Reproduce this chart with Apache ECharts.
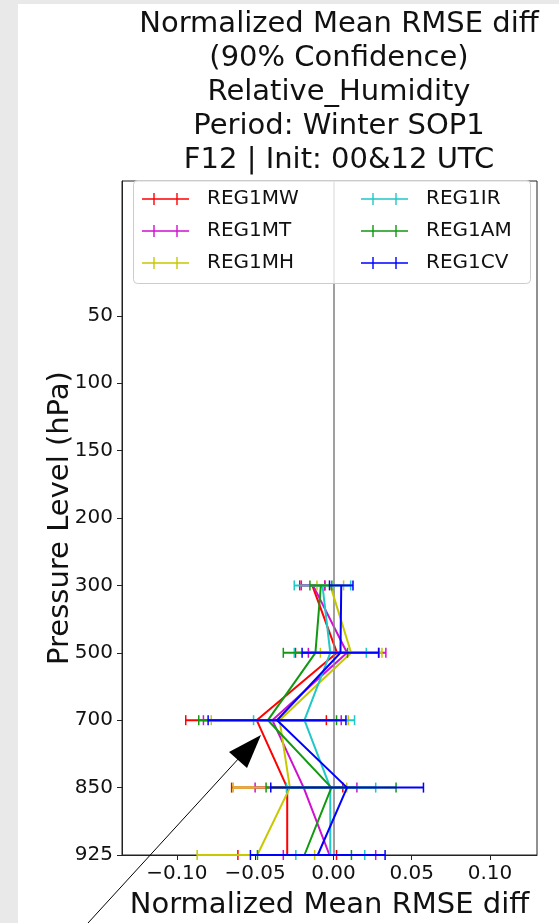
<!DOCTYPE html>
<html>
<head>
<meta charset="utf-8">
<script src="https://cdn.jsdelivr.net/npm/echarts@6/dist/echarts.min.js"></script>
<style>
html,body{margin:0;padding:0;background:#e9e9e9;}
#c{width:559px;height:923px;}
</style>
</head>
<body>
<div id="c"></div>
<script>
// Y tick labels (pressure levels, evenly spaced)
const levels = ['50','100','150','200','300','500','700','850','925'];
// Levels that carry data
const dataLevels = ['300','500','700','850','925'];
// X tick values
const xTicks = [-0.10, -0.05, 0.00, 0.05, 0.10];

const seriesNames = ['REG1MW','REG1MT','REG1MH','REG1IR','REG1AM','REG1CV'];
const seriesColors = ['#ff0000','#d010d0','#c8c800','#20c8c8','#119911','#0000ff'];

// Means (300, 500, 700, 850, 925)
const mw = [-0.0135, 0.0023, -0.0490, -0.0295, -0.0295];
const mt = [-0.0130, 0.0087, -0.0390, -0.0190, -0.0025];
const mh = [-0.0020, 0.0113, -0.0344, -0.0278, -0.0486];
const ir = [-0.0070, -0.0020, -0.0185, -0.0020, -0.0020];
const am = [-0.0080, -0.0115, -0.0418, -0.0013, -0.0185];
const cv = [0.0050, 0.0045, -0.0360, 0.0087, -0.0100];

// 90% confidence lower bounds
const mwLow = [-0.0215, -0.0242, -0.0943, -0.0650, -0.0610];
const mtLow = [-0.0205, -0.0160, -0.0830, -0.0500, -0.0320];
const mhLow = [-0.0105, -0.0083, -0.0780, -0.0640, -0.0870];
const irLow = [-0.0250, -0.0250, -0.0510, -0.0300, -0.0240];
const amLow = [-0.0150, -0.0320, -0.0860, -0.0430, -0.0485];
const cvLow = [-0.0025, -0.0200, -0.0800, -0.0400, -0.0530];

// 90% confidence upper bounds
const mwHigh = [-0.0055, 0.0288, -0.0045, 0.0060, 0.0020];
const mtHigh = [-0.0055, 0.0335, 0.0050, 0.0150, 0.0270];
const mhHigh = [0.0065, 0.0310, 0.0095, 0.0085, -0.0120];
const irHigh = [0.0110, 0.0210, 0.0135, 0.0270, 0.0200];
const amHigh = [-0.0010, 0.0090, 0.0020, 0.0400, 0.0115];
const cvHigh = [0.0125, 0.0290, 0.0080, 0.0575, 0.0330];

const means = [mw, mt, mh, ir, am, cv];
const lows = [mwLow, mtLow, mhLow, irLow, amLow, cvLow];
const highs = [mwHigh, mtHigh, mhHigh, irHigh, amHigh, cvHigh];

const lvlIndex = l => levels.indexOf(l);
const fmtX = v => {
  const s = Math.abs(v).toFixed(2);
  return (v < -1e-9 ? '\u2212' : '') + s;
};

const series = [];
seriesNames.forEach((name, k) => {
  const color = seriesColors[k];
  const line = {
    name, type: 'line', symbol: 'none', color,
    lineStyle: { width: 2, color },
    data: dataLevels.map((l, i) => [means[k][i], lvlIndex(l)]),
    z: 3 + k
  };
  if (k === 0) {
    line.markLine = {
      silent: true, symbol: 'none', animation: false,
      label: { show: false },
      lineStyle: { color: '#808080', width: 1.5, type: 'solid' },
      data: [{ xAxis: 0 }]
    };
  }
  series.push(line);
  series.push({
    name, type: 'custom', color,
    data: dataLevels.map((l, i) => [lows[k][i], highs[k][i], lvlIndex(l)]),
    encode: { x: [0, 1], y: 2 },
    z: 3 + k,
    renderItem: (params, api) => {
      const y = api.value(2);
      const a = api.coord([api.value(0), y]);
      const b = api.coord([api.value(1), y]);
      const h = 5;
      return {
        type: 'group',
        children: [
          { type: 'line', shape: { x1: a[0], y1: a[1], x2: b[0], y2: b[1] }, style: { stroke: color, lineWidth: 2 } },
          { type: 'line', shape: { x1: a[0], y1: a[1] - h, x2: a[0], y2: a[1] + h }, style: { stroke: color, lineWidth: 1.5 } },
          { type: 'line', shape: { x1: b[0], y1: b[1] - h, x2: b[0], y2: b[1] + h }, style: { stroke: color, lineWidth: 1.5 } }
        ]
      };
    }
  });
});

const icon = 'path://M0,5.3h47v1.4H0z M11.3,0h1.4v12h-1.4z M34.3,0h1.4v12h-1.4z';
const legendCommon = {
  orient: 'vertical', top: 189, padding: 0, itemGap: 12,
  itemWidth: 47, itemHeight: 12, icon,
  textStyle: { fontSize: 20, color: '#111', fontFamily: 'DejaVu Sans', lineHeight: 20, padding: [0, 0, 0, 13] },
  selectedMode: false, z: 20
};

const chart = echarts.init(document.getElementById('c'));
chart.setOption({
  animation: false,
  backgroundColor: '#e9e9e9',
  textStyle: { fontFamily: 'DejaVu Sans' },
  title: {
    text: 'Normalized Mean RMSE diff\n(90% Confidence)\nRelative_Humidity\nPeriod: Winter SOP1\nF12 | Init: 00&12 UTC',
    left: 334, top: 2, textAlign: 'center',
    textStyle: { fontSize: 29, fontWeight: 'normal', color: '#111', lineHeight: 34, fontFamily: 'DejaVu Sans' }
  },
  graphic: [
    { type: 'rect', z: -10, silent: true, shape: { x: 18, y: 4, width: 541, height: 919 }, style: { fill: '#ffffff' } },
    { type: 'rect', z: 15, silent: true, shape: { x: 133.5, y: 180.5, width: 397, height: 103, r: 4 }, style: { fill: 'rgba(255,255,255,0.8)', stroke: '#cccccc', lineWidth: 1 } },
    { type: 'line', z: 30, silent: true, shape: { x1: 88, y1: 923, x2: 240, y2: 757 }, style: { stroke: '#000', lineWidth: 1 } },
    { type: 'polygon', z: 30, silent: true, shape: { points: [[261, 735], [229, 752], [247, 768]] }, style: { fill: '#000' } }
  ],
  legend: [
    Object.assign({}, legendCommon, { left: 142, data: seriesNames.slice(0, 3) }),
    Object.assign({}, legendCommon, { left: 361, data: seriesNames.slice(3, 6) })
  ],
  grid: { left: 122, right: 22, top: 181, bottom: 68, show: true, borderColor: '#222', borderWidth: 1, backgroundColor: 'transparent', outerBoundsMode: 'none', containLabel: false },
  xAxis: {
    type: 'value', min: -0.135, max: 0.13,
    name: 'Normalized Mean RMSE diff', nameLocation: 'middle', nameGap: 36, nameMoveOverlap: false,
    nameTextStyle: { fontSize: 29, color: '#111' },
    axisLine: { show: true, onZero: false, lineStyle: { color: '#222', width: 1 } },
    axisTick: { show: true, length: 5, customValues: xTicks, lineStyle: { color: '#222' } },
    axisLabel: { fontSize: 20, color: '#111', margin: 9, customValues: xTicks, formatter: fmtX },
    splitLine: { show: false }
  },
  yAxis: {
    type: 'value', inverse: true, min: -2, max: 8,
    name: 'Pressure Level (hPa)', nameLocation: 'middle', nameGap: 47, nameRotate: 90, nameMoveOverlap: false,
    nameTextStyle: { fontSize: 29, color: '#111' },
    axisLine: { show: true, onZero: false, lineStyle: { color: '#222', width: 1 } },
    axisTick: { show: true, length: 5, customValues: [0,1,2,3,4,5,6,7,8], lineStyle: { color: '#222' } },
    axisLabel: { fontSize: 20, color: '#111', margin: 9, customValues: [0,1,2,3,4,5,6,7,8], formatter: v => levels[Math.round(v)] || '' },
    splitLine: { show: false }
  },
  series
});
</script>
</body>
</html>
